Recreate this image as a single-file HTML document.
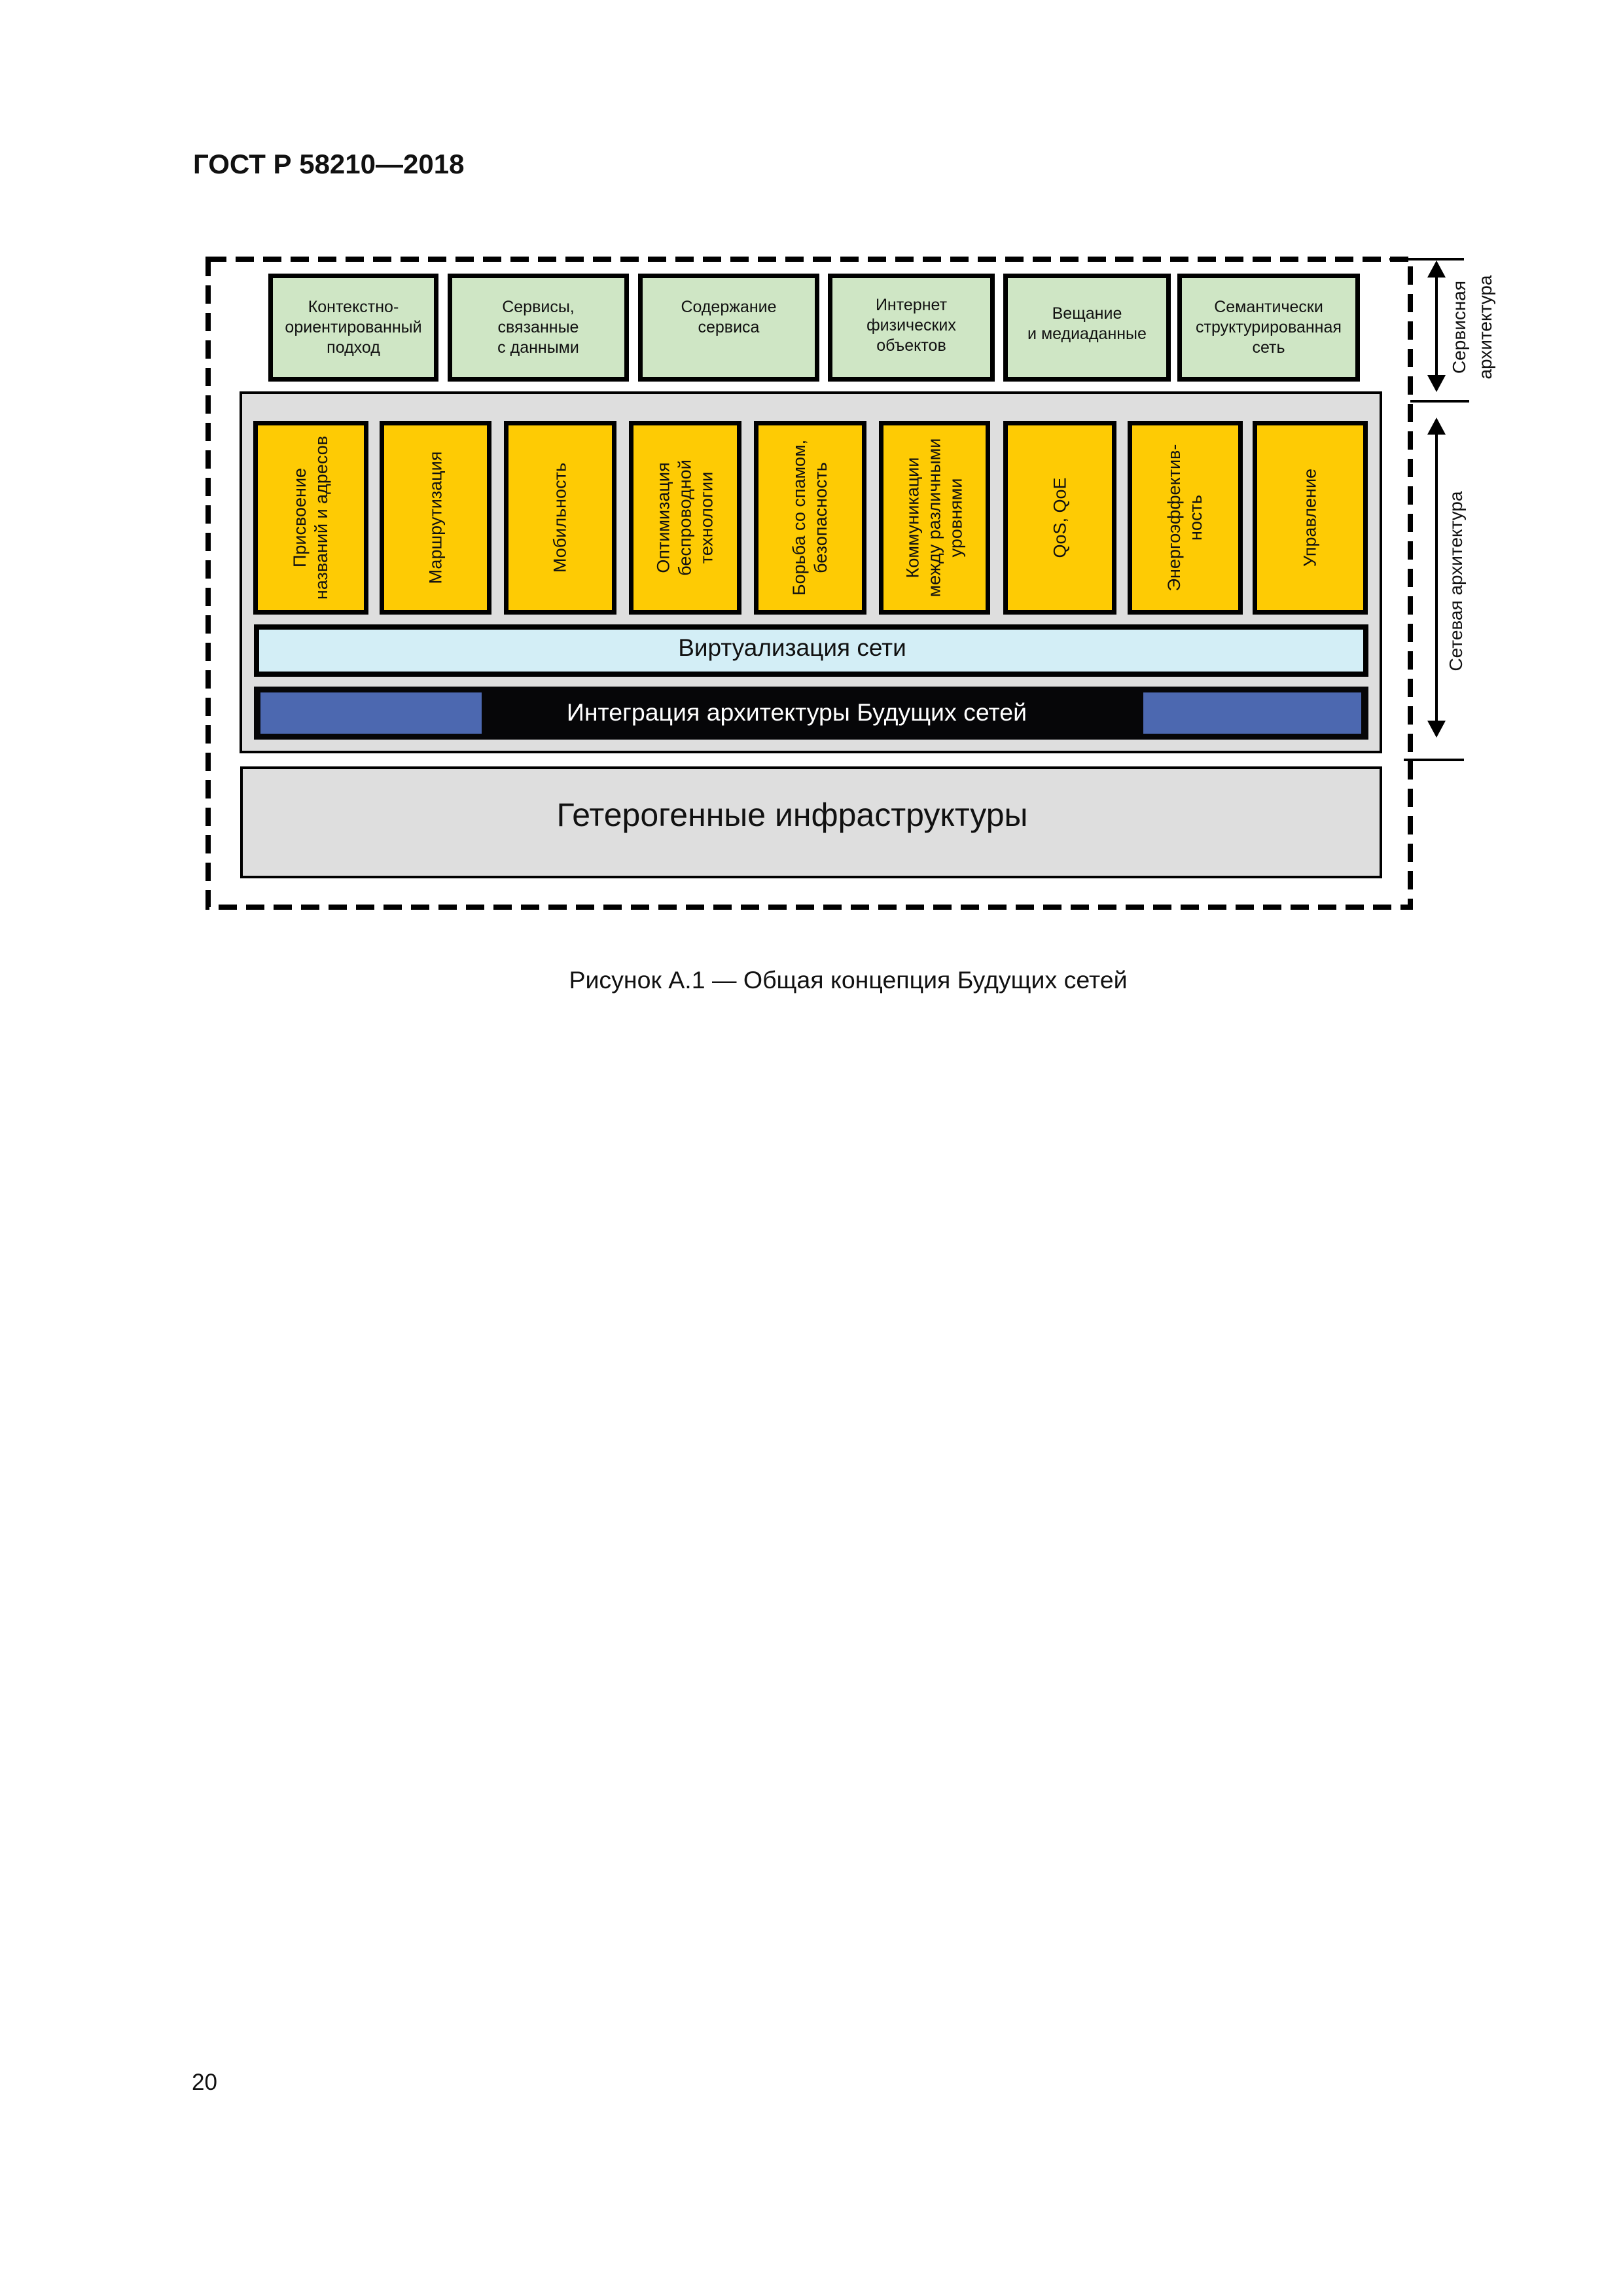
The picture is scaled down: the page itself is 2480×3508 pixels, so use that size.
<!DOCTYPE html>
<html><head><meta charset="utf-8">
<style>
html,body{margin:0;padding:0;background:#fff;}
body{width:2480px;height:3508px;position:relative;overflow:hidden;font-family:"Liberation Sans","DejaVu Sans",sans-serif;color:#111;}
.a{position:absolute;box-sizing:border-box;}
.g{background:#cfe6c5;border:7px solid #000;display:flex;align-items:center;justify-content:center;text-align:center;font-size:25px;line-height:31px;}
.y{background:#fecb04;border:7px solid #000;}
.y span{position:absolute;left:50%;top:50%;transform:translate(-50%,-50%) rotate(-90deg);white-space:nowrap;text-align:center;font-size:27px;line-height:33px;}
.rt{position:absolute;transform:translate(-50%,-50%) rotate(-90deg);white-space:nowrap;text-align:center;font-size:28px;line-height:40px;}
</style></head><body>
<div class="a" style="left:295px;top:226px;font-size:42px;font-weight:bold;line-height:50px;">ГОСТ Р 58210—2018</div>

<svg class="a" style="left:0;top:0" width="2480" height="1500">
<rect x="318" y="396" width="1837" height="990" fill="none" stroke="#000" stroke-width="8" stroke-dasharray="28 14"/>
<g stroke="#000" stroke-width="4" fill="#000">
<line x1="2123" y1="396" x2="2237" y2="396"/>
<line x1="2155" y1="613" x2="2245" y2="613"/>
<line x1="2145" y1="1161" x2="2237" y2="1161"/>
<line x1="2195" y1="420" x2="2195" y2="578"/>
<polygon points="2195,398 2181,424 2209,424" stroke="none"/>
<polygon points="2195,599 2181,573 2209,573" stroke="none"/>
<line x1="2195" y1="660" x2="2195" y2="1106"/>
<polygon points="2195,638 2181,664 2209,664" stroke="none"/>
<polygon points="2195,1127 2181,1101 2209,1101" stroke="none"/>
</g>
</svg>

<div class="rt" style="left:2250px;top:500px;">Сервисная<br>архитектура</div>
<div class="rt" style="left:2225px;top:888px;">Сетевая архитектура</div>

<div class="a g" style="left:410px;top:418px;width:260px;height:165px;">Контекстно-<br>ориентированный<br>подход</div>
<div class="a g" style="left:684px;top:418px;width:277px;height:165px;">Сервисы,<br>связанные<br>с данными</div>
<div class="a g" style="left:975px;top:418px;width:277px;height:165px;padding-bottom:32px;">Содержание<br>сервиса</div>
<div class="a g" style="left:1265px;top:418px;width:255px;height:165px;padding-bottom:6px;">Интернет<br>физических<br>объектов</div>
<div class="a g" style="left:1533px;top:418px;width:256px;height:165px;padding-bottom:12px;">Вещание<br>и медиаданные</div>
<div class="a g" style="left:1799px;top:418px;width:279px;height:165px;">Семантически<br>структурированная<br>сеть</div>

<div class="a" style="left:366px;top:598px;width:1746px;height:553px;background:#dedede;border:4px solid #000;"></div>

<div class="a y" style="left:387px;top:643px;width:176px;height:296px;"><span>Присвоение<br>названий и адресов</span></div>
<div class="a y" style="left:580px;top:643px;width:171px;height:296px;"><span>Маршрутизация</span></div>
<div class="a y" style="left:770px;top:643px;width:172px;height:296px;"><span>Мобильность</span></div>
<div class="a y" style="left:961px;top:643px;width:172px;height:296px;"><span>Оптимизация<br>беспроводной<br>технологии</span></div>
<div class="a y" style="left:1152px;top:643px;width:172px;height:296px;"><span>Борьба со спамом,<br>безопасность</span></div>
<div class="a y" style="left:1343px;top:643px;width:170px;height:296px;"><span>Коммуникации<br>между различными<br>уровнями</span></div>
<div class="a y" style="left:1533px;top:643px;width:173px;height:296px;"><span>QoS, QoE</span></div>
<div class="a y" style="left:1723px;top:643px;width:176px;height:296px;"><span>Энергоэффектив-<br>ность</span></div>
<div class="a y" style="left:1914px;top:643px;width:176px;height:296px;"><span>Управление</span></div>

<div class="a" style="left:388px;top:954px;width:1703px;height:80px;background:#d3eef6;border:8px solid #000;text-align:center;font-size:37px;line-height:56px;padding-bottom:8px;padding-right:58px;">Виртуализация сети</div>

<div class="a" style="left:388px;top:1049px;width:1703px;height:81px;background:#060608;"></div>
<div class="a" style="left:398px;top:1058px;width:338px;height:63px;background:#4c68b0;"></div>
<div class="a" style="left:1747px;top:1058px;width:333px;height:63px;background:#4c68b0;"></div>
<div class="a" style="left:736px;top:1049px;width:1011px;height:81px;color:#fff;text-align:center;font-size:37.5px;line-height:78px;padding-right:48px;">Интеграция архитектуры Будущих сетей</div>

<div class="a" style="left:367px;top:1171px;width:1745px;height:171px;background:#dedede;border:4px solid #000;text-align:center;font-size:50px;line-height:140px;padding-right:58px;">Гетерогенные инфраструктуры</div>

<div class="a" style="left:0;top:1475px;width:2592px;text-align:center;font-size:37.5px;line-height:44px;">Рисунок А.1 — Общая концепция Будущих сетей</div>

<div class="a" style="left:293px;top:3162px;font-size:35px;line-height:40px;">20</div>
</body></html>
